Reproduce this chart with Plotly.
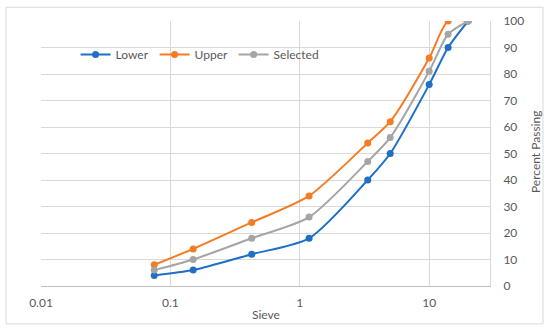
import plotly.graph_objects as go

sieve = [0.075, 0.15, 0.425, 1.18, 3.35, 5, 10, 14, 20]
lower = [4, 6, 12, 18, 40, 50, 76, 90, 100]
upper = [8, 14, 24, 34, 54, 62, 86, 100, 100]
selected = [6, 10, 18, 26, 47, 56, 81, 95, 100]

series = [("Lower", lower, "#1f6fc6", "legend", 0.077),
          ("Upper", upper, "#f57c22", "legend2", 0.253),
          ("Selected", selected, "#a5a5a5", "legend3", 0.429)]

fig = go.Figure()
legends = {}
for name, vals, col, lg, lx in series:
    fig.add_trace(go.Scatter(
        x=sieve, y=vals, name=name, mode="lines+markers", legend=lg,
        line=dict(color=col, width=2, shape="spline", smoothing=0.7),
        marker=dict(color=col, size=7),
    ))
    legends[lg] = dict(orientation="h", x=lx, y=0.874, xanchor="left", yanchor="middle",
                       bgcolor="rgba(0,0,0,0)", font=dict(size=12, color="#595959"),
                       itemwidth=30)

fig.update_layout(
    width=550, height=333,
    margin=dict(l=41, r=60, t=21, b=47, autoexpand=False),
    paper_bgcolor="white", plot_bgcolor="white",
    font=dict(family="Lato, Open Sans, sans-serif", size=12, color="#595959"),
    showlegend=True,
    xaxis=dict(type="log", range=[-2, 1.47], tickvals=[0.01, 0.1, 1, 10],
               ticktext=["0.01", "0.1", "1", "10"], automargin=False,
               showgrid=True, gridcolor="#d9d9d9", gridwidth=1,
               showline=True, linecolor="#bfbfbf", linewidth=1, zeroline=False,
               ticks="", ticklabelstandoff=6),
    yaxis=dict(range=[0, 100], dtick=10, side="right", automargin=False,
               showgrid=True, gridcolor="#d9d9d9", gridwidth=1,
               showline=True, linecolor="#d9d9d9", linewidth=1, zeroline=False,
               ticks="", ticklabelstandoff=10),
    annotations=[
        dict(text="Sieve", xref="paper", yref="paper", x=0.5, y=-0.108,
             xanchor="center", yanchor="middle", showarrow=False,
             font=dict(size=12, color="#595959")),
        dict(text="Percent Passing", xref="paper", yref="paper", x=1.1, y=0.505,
             xanchor="center", yanchor="middle", textangle=-90, showarrow=False,
             font=dict(size=12, color="#595959")),
    ],
    shapes=[dict(type="rect", xref="paper", yref="paper",
                 x0=-0.078, x1=1.118, y0=-0.143, y1=1.052,
                 line=dict(color="#d9d9d9", width=1), fillcolor="rgba(0,0,0,0)", layer="above")],
    **legends,
)

fig.write_html("out.html", config={"displayModeBar": False},
               post_script="document.body.style.margin='0';")
